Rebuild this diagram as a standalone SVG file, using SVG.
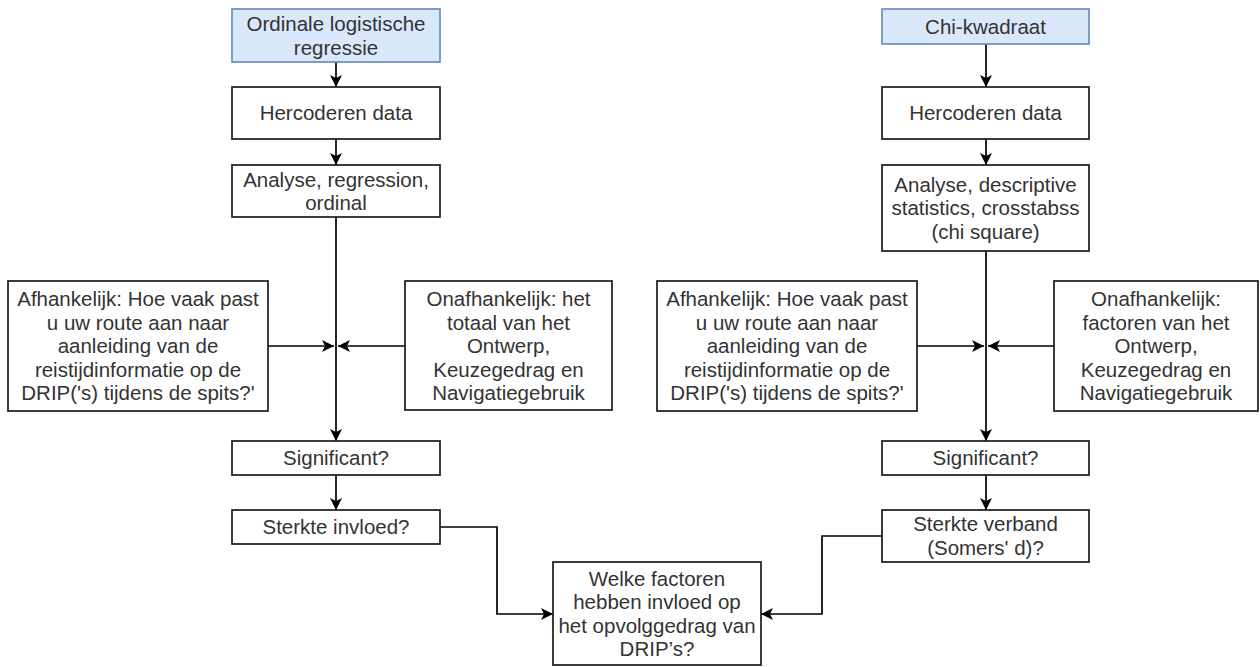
<svg xmlns="http://www.w3.org/2000/svg" width="1260" height="667" viewBox="0 0 1260 667">
<style>
.box{fill:#ffffff;stroke:#1a1a1a;stroke-width:1.7}
.blue{fill:#dae8fc;stroke:#6c8ebf;stroke-width:1.7}
.t{font-family:"Liberation Sans",Arial,sans-serif;font-size:20.5px;fill:#333333;text-anchor:middle}
.edge{fill:none;stroke:#000000;stroke-width:1.7}
</style>
<defs>
<marker id="arr" markerUnits="userSpaceOnUse" markerWidth="14" markerHeight="12" refX="12" refY="6" orient="auto">
<path d="M0,0 L12,6 L0,12 L3,6 Z" fill="#000000"/>
</marker>
</defs>
<rect width="1260" height="667" fill="#ffffff"/>
<g id="connectors">
<path class="edge" d="M336,62 L336,87" marker-end="url(#arr)"/>
<path class="edge" d="M336,139 L336,165" marker-end="url(#arr)"/>
<path class="edge" d="M336,217 L336,441" marker-end="url(#arr)"/>
<path class="edge" d="M268,346 L334,346" marker-end="url(#arr)"/>
<path class="edge" d="M405,346 L338,346" marker-end="url(#arr)"/>
<path class="edge" d="M336,475 L336,510" marker-end="url(#arr)"/>
<path class="edge" d="M440,527 L497,527 L497,614 L553,614" marker-end="url(#arr)"/>
<path class="edge" d="M986,44 L986,87" marker-end="url(#arr)"/>
<path class="edge" d="M986,139 L986,165" marker-end="url(#arr)"/>
<path class="edge" d="M986,251 L986,441" marker-end="url(#arr)"/>
<path class="edge" d="M917,346 L984,346" marker-end="url(#arr)"/>
<path class="edge" d="M1054,346 L988,346" marker-end="url(#arr)"/>
<path class="edge" d="M986,475 L986,510" marker-end="url(#arr)"/>
<path class="edge" d="M882,536 L822,536 L822,614 L761,614" marker-end="url(#arr)"/>
</g>
<g id="ordinale">
<rect class="blue" x="232" y="9" width="208" height="53"/>
<text class="t"><tspan x="336" y="31">Ordinale logistische</tspan><tspan x="336" y="54.5">regressie</tspan></text>
</g>
<g id="hercoderen-l">
<rect class="box" x="232" y="87" width="208" height="52"/>
<text class="t" x="336" y="120">Hercoderen data</text>
</g>
<g id="analyse-l">
<rect class="box" x="232" y="165" width="208" height="52"/>
<text class="t"><tspan x="336" y="186.5">Analyse, regression,</tspan><tspan x="336" y="210">ordinal</tspan></text>
</g>
<g id="afhankelijk-l">
<rect class="box" x="8" y="281" width="260" height="130"/>
<text class="t"><tspan x="138" y="306">Afhankelijk: Hoe vaak past</tspan><tspan x="138" y="329.5">u uw route aan naar</tspan><tspan x="138" y="353">aanleiding van de</tspan><tspan x="138" y="376.5">reistijdinformatie op de</tspan><tspan x="138" y="400">DRIP('s) tijdens de spits?'</tspan></text>
</g>
<g id="onafhankelijk-l">
<rect class="box" x="405" y="281" width="207" height="129"/>
<text class="t"><tspan x="508.5" y="306">Onafhankelijk: het</tspan><tspan x="508.5" y="329.5">totaal van het</tspan><tspan x="508.5" y="353">Ontwerp,</tspan><tspan x="508.5" y="376.5">Keuzegedrag en</tspan><tspan x="508.5" y="400">Navigatiegebruik</tspan></text>
</g>
<g id="significant-l">
<rect class="box" x="232" y="441" width="208" height="34"/>
<text class="t" x="336" y="465">Significant?</text>
</g>
<g id="sterkte-invloed">
<rect class="box" x="232" y="510" width="208" height="34"/>
<text class="t" x="336" y="534">Sterkte invloed?</text>
</g>
<g id="welke">
<rect class="box" x="553" y="562" width="208" height="103"/>
<text class="t"><tspan x="657" y="585.5">Welke factoren</tspan><tspan x="657" y="609">hebben invloed op</tspan><tspan x="657" y="632.5">het opvolggedrag van</tspan><tspan x="657" y="656">DRIP’s?</tspan></text>
</g>
<g id="chi">
<rect class="blue" x="882" y="9" width="207" height="35"/>
<text class="t" x="985.5" y="33.5">Chi-kwadraat</text>
</g>
<g id="hercoderen-r">
<rect class="box" x="882" y="87" width="207" height="52"/>
<text class="t" x="985.5" y="120">Hercoderen data</text>
</g>
<g id="analyse-r">
<rect class="box" x="882" y="165" width="207" height="86"/>
<text class="t"><tspan x="985.5" y="191.5">Analyse, descriptive</tspan><tspan x="985.5" y="215">statistics, crosstabss</tspan><tspan x="985.5" y="238.5">(chi square)</tspan></text>
</g>
<g id="afhankelijk-r">
<rect class="box" x="657" y="281" width="260" height="130"/>
<text class="t"><tspan x="787" y="306">Afhankelijk: Hoe vaak past</tspan><tspan x="787" y="329.5">u uw route aan naar</tspan><tspan x="787" y="353">aanleiding van de</tspan><tspan x="787" y="376.5">reistijdinformatie op de</tspan><tspan x="787" y="400">DRIP('s) tijdens de spits?'</tspan></text>
</g>
<g id="onafhankelijk-r">
<rect class="box" x="1054" y="281" width="204" height="130"/>
<text class="t"><tspan x="1156" y="306">Onafhankelijk:</tspan><tspan x="1156" y="329.5">factoren van het</tspan><tspan x="1156" y="353">Ontwerp,</tspan><tspan x="1156" y="376.5">Keuzegedrag en</tspan><tspan x="1156" y="400">Navigatiegebruik</tspan></text>
</g>
<g id="significant-r">
<rect class="box" x="882" y="441" width="207" height="34"/>
<text class="t" x="985.5" y="465">Significant?</text>
</g>
<g id="sterkte-verband">
<rect class="box" x="882" y="510" width="207" height="52"/>
<text class="t"><tspan x="985.5" y="531">Sterkte verband</tspan><tspan x="985.5" y="554.5">(Somers' d)?</tspan></text>
</g>
</svg>
